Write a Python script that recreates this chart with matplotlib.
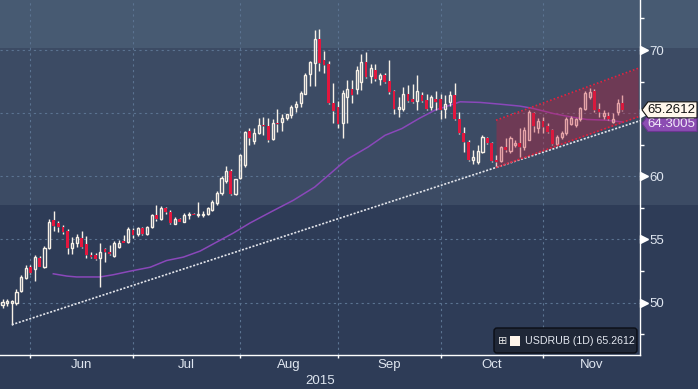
import numpy as np
import matplotlib
matplotlib.use('Agg')
import matplotlib.pyplot as plt
import matplotlib.transforms as mtransforms
from matplotlib.patches import Rectangle, Polygon, FancyBboxPatch
from matplotlib.ticker import FixedLocator, FixedFormatter, NullFormatter

plt.rcParams['font.family'] = ['Liberation Sans', 'DejaVu Sans']

# USDRUB daily candles, one row per trading day (index 0 = 22 May 2015)
opens = [49.8, 50.0, 50.0, 50.0, 50.9, 51.96, 52.8, 52.65, 53.55, 52.85,
         54.35, 56.55, 56.3, 56.0, 55.65, 54.3, 54.7, 55.15, 54.6, 53.8,
         53.75, 53.5, 54.25, 54.0, 53.7, 54.4, 54.9, 54.8, 55.75, 55.4,
         55.9, 55.45, 55.95, 56.9, 56.65, 57.5, 57.2, 56.25, 56.6, 56.4,
         56.9, 57.0, 56.95, 56.95, 57.0, 57.3, 57.85, 58.65, 59.6, 60.4,
         58.6, 59.9, 60.9, 63.55, 62.8, 63.45, 64.1, 63.95, 62.95, 64.2,
         64.3, 64.65, 64.85, 65.45, 65.8, 66.55, 68.1, 69.0, 70.85, 69.2,
         68.9, 65.8, 65.45, 64.2, 66.3, 66.95, 66.95, 67.5, 69.05, 67.95,
         68.45, 67.7, 68.0, 67.55, 66.75, 65.3, 65.35, 66.5, 66.1, 65.95,
         66.45, 66.05, 65.5, 66.15, 66.1, 65.35, 65.9, 66.4, 64.55, 63.45,
         62.75, 61.3, 61.15, 61.95, 63.0, 62.6, 61.3, 61.25, 62.35, 62.0,
         62.45, 62.6, 62.35, 62.9, 65.0, 63.8, 64.4, 63.97, 63.65, 62.54,
         63.12, 63.39, 64.13, 64.05, 64.5, 65.3, 66.3, 66.77, 65.29, 64.76,
         64.76, 64.32, 65.11, 65.82]
highs = [50.3, 50.25, 50.2, 51.05, 52.2, 53.0, 52.95, 53.75, 53.7, 54.5,
         56.6, 57.25, 56.45, 56.15, 55.85, 55.2, 55.4, 55.65, 55.3, 54.0,
         53.95, 54.7, 54.3, 54.55, 54.85, 54.95, 55.35, 55.95, 55.9, 56.0,
         56.0, 56.1, 57.0, 57.7, 57.65, 57.55, 57.3, 56.8, 56.7, 57.1,
         57.15, 57.1, 58.0, 57.25, 57.6, 58.1, 58.85, 60.05, 60.8, 60.6,
         59.8, 61.8, 63.55, 63.8, 63.8, 64.6, 64.7, 64.65, 64.5, 65.35,
         64.95, 64.95, 65.65, 65.95, 66.75, 68.2, 69.15, 71.6, 71.65, 69.95,
         69.1, 67.4, 66.0, 66.8, 67.6, 67.65, 68.7, 69.7, 69.85, 68.9,
         68.9, 68.15, 68.15, 69.2, 66.8, 66.3, 67.05, 67.2, 67.3, 68.0,
         66.7, 66.55, 66.45, 66.75, 66.55, 66.4, 66.75, 67.35, 65.1, 63.9,
         62.85, 62.05, 62.45, 63.25, 63.1, 62.7, 61.7, 62.4, 63.0, 63.2,
         62.85, 63.8, 63.9, 65.25, 65.1, 64.6, 64.7, 64.2, 63.78, 63.25,
         63.6, 64.71, 64.76, 64.58, 65.5, 66.77, 66.96, 66.88, 65.82, 65.24,
         65.11, 64.98, 66.16, 66.42]
lows = [49.6, 49.75, 48.25, 49.8, 50.8, 51.85, 52.3, 51.7, 52.8, 52.75,
        54.25, 55.65, 55.6, 55.4, 53.85, 53.85, 54.4, 54.35, 53.55, 53.5,
        53.4, 51.25, 53.2, 53.75, 53.6, 54.3, 54.7, 54.75, 55.15, 55.3,
        55.35, 55.35, 55.9, 56.45, 56.55, 57.05, 56.2, 56.2, 56.35, 56.35,
        56.65, 56.9, 56.8, 56.8, 56.9, 57.25, 57.75, 58.5, 59.5, 58.5,
        58.5, 59.8, 60.75, 62.45, 62.55, 63.35, 63.25, 62.7, 62.9, 63.5,
        63.6, 64.45, 64.65, 65.1, 65.45, 66.5, 67.15, 67.15, 68.3, 68.2,
        65.75, 64.2, 63.8, 63.0, 64.25, 65.8, 66.5, 66.8, 67.75, 67.35,
        67.55, 67.2, 67.4, 66.55, 64.9, 64.7, 65.2, 65.9, 65.8, 65.25,
        65.9, 65.25, 65.25, 65.25, 64.55, 64.65, 65.55, 64.45, 63.35, 61.95,
        61.25, 60.95, 60.95, 61.85, 62.55, 61.15, 60.7, 61.15, 61.95, 61.85,
        62.35, 61.5, 62.1, 62.85, 63.5, 63.45, 63.4, 63.4, 62.46, 62.38,
        62.99, 63.25, 64.05, 63.92, 64.4, 65.24, 66.16, 65.11, 64.7, 64.5,
        64.45, 64.19, 64.84, 65.19]
closes = [50.05, 50.1, 50.1, 50.85, 52.04, 52.7, 52.35, 53.6, 52.8, 54.35,
          56.4, 56.1, 55.95, 55.55, 54.3, 54.75, 55.2, 54.4, 53.75, 53.6,
          53.45, 54.0, 54.0, 53.85, 54.75, 54.75, 54.75, 55.8, 55.35, 55.9,
          55.45, 55.95, 56.9, 56.65, 57.5, 57.15, 56.3, 56.65, 56.4, 56.95,
          57.05, 56.95, 57.05, 57.05, 57.5, 58.0, 58.65, 59.9, 60.4, 58.6,
          59.75, 61.7, 63.5, 63.05, 63.45, 64.05, 64.0, 62.9, 64.25, 64.15,
          64.65, 64.9, 65.45, 65.75, 66.6, 68.0, 69.05, 70.85, 68.95, 68.85,
          65.8, 65.2, 64.15, 66.6, 66.9, 66.4, 68.45, 69.05, 67.9, 68.55,
          67.7, 68.0, 67.5, 66.7, 65.35, 65.45, 66.5, 66.0, 65.9, 66.75,
          66.0, 65.3, 66.25, 65.9, 65.25, 65.7, 66.4, 64.5, 63.4, 62.7,
          61.3, 61.5, 62.0, 63.1, 62.6, 61.25, 61.15, 62.3, 62.05, 63.05,
          62.6, 62.35, 63.65, 65.1, 63.95, 64.4, 63.9, 63.52, 62.54, 63.12,
          63.44, 64.5, 64.58, 64.5, 65.37, 66.61, 66.69, 65.24, 65.11, 65.03,
          64.5, 64.5, 65.77, 65.2612]

# moving average (trading-day index, value)
ma_x = [10.9, 13.8, 15.9, 20.9, 23.7, 27.4, 31.7, 35.2, 38.8, 42.4, 46, 49.5,
        53.1, 57.7, 62.4, 67, 72.4, 74.2, 78.5, 82.1, 85.7, 89.4, 92.8, 95,
        98.2, 102.5, 106.8, 111, 113.9, 118.2, 121.8, 125.4, 129.7, 133]
ma_y = [52.28, 52.1, 52.03, 52.03, 52.2, 52.49, 52.8, 53.33, 53.6, 54.08, 54.8, 55.5,
        56.3, 57.2, 58.1, 59.15, 60.87, 61.4, 62.33, 63.25, 63.78, 64.58, 65.24, 65.5,
        65.9, 65.85, 65.71, 65.56, 65.37, 64.97, 64.71, 64.5, 64.44, 64.3005]

# support trend line and price channel
trend_x = [2, 136.8]
trend_y = [48.25, 64.4]
channel_x = [105.9, 136.4]
channel_low = [60.69, 64.71]
channel_high = [64.44, 68.55]

# axis labels ("65" sits under the price tags in the original)
month_starts = [6, 28, 51, 72, 94, 116]
month_mids = [17, 39.5, 61.5, 83, 105, 126.5]
month_names = ['Jun', 'Jul', 'Aug', 'Sep', 'Oct', 'Nov']
y_ticks = [50, 55, 60, 65, 70]
y_labels = ['50', '55', '60', '', '70']
y_minor = [47.5, 52.5, 57.5, 62.5, 67.5, 72.5]
last_price = 65.2612
last_ma = 64.3005

cream = '#f7f0e6'
red = '#e3173e'
txt = '#dfe6f0'

fig = plt.figure(figsize=(6.98, 3.89), dpi=100)
fig.patch.set_facecolor('#2e3c57')
fig.add_artist(Rectangle((0, 1 - 48 / 389), 1, 48 / 389, transform=fig.transFigure,
                         fc='#475a72', ec='none', zorder=-10))
fig.add_artist(Rectangle((0, 1 - 205 / 389), 1, 157 / 389, transform=fig.transFigure,
                         fc='#3c4b64', ec='none', zorder=-10))

ax = fig.add_axes([0, 34 / 389, 640 / 698, 355 / 389])
ax.set_facecolor('none')
ax.set_xlim(-0.54, 136.8)
ax.set_ylim(45.85, 73.96)

o = np.array(opens)
h = np.array(highs)
l = np.array(lows)
c = np.array(closes)
idx = np.arange(len(o))
up = c >= o
lo = np.minimum(o, c)
hi = np.maximum(o, c)
hgt = np.maximum(hi - lo, 0.03)

ax.plot(ma_x, ma_y, color='#8a48ba', lw=1.1, zorder=2)

ax.vlines(idx, hi, h, color=cream, lw=1, zorder=3)
ax.vlines(idx, l, lo, color=cream, lw=1, zorder=3)
ax.bar(idx[up], hgt[up], bottom=lo[up], width=0.45, facecolor='none',
       edgecolor=cream, linewidth=1, zorder=3)
ax.bar(idx[~up], hgt[~up], bottom=lo[~up], width=0.6, color=red, lw=0, zorder=3)

ax.plot(trend_x, trend_y, color='#e4e6ec', lw=1.2, ls=(0, (1.2, 1)), zorder=4)
ax.fill_between(channel_x, channel_low, channel_high, color='#c81e3c', alpha=0.36,
                lw=0, zorder=5)
ax.plot(channel_x, channel_low, color='#e8203c', lw=1.2, ls=(0, (1, 1.3)), zorder=6)
ax.plot(channel_x, channel_high, color='#e8203c', lw=1.2, ls=(0, (1, 1.3)), zorder=6)

# axes styling
for side in ['left', 'top']:
    ax.spines[side].set_visible(False)
for side in ['right', 'bottom']:
    ax.spines[side].set_color('white')
    ax.spines[side].set_linewidth(1)

ax.yaxis.tick_right()
ax.yaxis.set_major_locator(FixedLocator(y_ticks))
ax.yaxis.set_major_formatter(FixedFormatter(y_labels))
ax.yaxis.set_minor_locator(FixedLocator(y_minor))
ax.tick_params(axis='y', which='major', length=0, pad=7, labelsize=9.5, labelcolor=txt)
ax.tick_params(axis='y', which='minor', length=3, width=1, color='white', direction='out')

ax.xaxis.set_major_locator(FixedLocator(month_starts))
ax.xaxis.set_major_formatter(NullFormatter())
ax.xaxis.set_minor_locator(FixedLocator(month_mids))
ax.xaxis.set_minor_formatter(FixedFormatter(month_names))
ax.tick_params(axis='x', which='major', length=2.5, width=1, color='white', direction='out')
ax.tick_params(axis='x', which='minor', length=0, pad=3, labelsize=9.5, labelcolor=txt)

ax.grid(True, which='major', color='#5b7391', ls=(0, (2, 3)), lw=0.8)
ax.set_axisbelow(True)

ax.plot([1 + 4 / 640] * len(y_ticks), y_ticks, ls='none', marker='>', ms=5.5,
        color='white', transform=ax.get_yaxis_transform(), clip_on=False, zorder=7)

ax.text(0.5, -0.073, '2015', transform=ax.transAxes, ha='center', va='center',
        fontsize=9.5, color=txt)

# price tags on the right axis
ident = mtransforms.IdentityTransform()


def price_tag(value, label, face, edge, fg, z, shift=0):
    x0, y0 = ax.transData.transform((ax.get_xlim()[1], value))
    y0 += shift
    verts = [(x0 + 2, y0), (x0 + 8, y0 + 8), (x0 + 57, y0 + 8),
             (x0 + 57, y0 - 8), (x0 + 8, y0 - 8)]
    fig.add_artist(Polygon(verts, closed=True, transform=ident, fc=face, ec=edge,
                           lw=0.8, zorder=z))
    t = fig.text(x0 + 7, y0 - 0.5, label, transform=ident, ha='left', va='center',
                 fontsize=9.5, color=fg)
    t.set_zorder(z + 0.1)


price_tag(last_ma, f'{last_ma:.4f}', '#8c4db3', '#6a3590', '#f0e8f8', 8, shift=-1.5)
price_tag(last_price, f'{last_price:.4f}', '#fff7ec', '#151515', '#111111', 9)

# legend box
fig.add_artist(FancyBboxPatch((494, 36), 143, 25, boxstyle='round,pad=0,rounding_size=3',
                              transform=ident, fc='#1f2737', ec='#0b0e15', lw=1, zorder=10))
fig.text(503, 48, '\u229e', transform=ident, ha='center', va='center', fontsize=8,
         color='#e0e0e0', family='DejaVu Sans', zorder=11)
fig.add_artist(Rectangle((510, 43), 10, 10, transform=ident, fc='#fff5ea', ec='none',
                         zorder=11))
fig.text(525, 48, f'USDRUB (1D) {last_price:.4f}', transform=ident, ha='left', va='center',
         fontsize=7.7, color='#e4e8f0', zorder=11)

fig.savefig('out.png', dpi=100, facecolor=fig.get_facecolor())
